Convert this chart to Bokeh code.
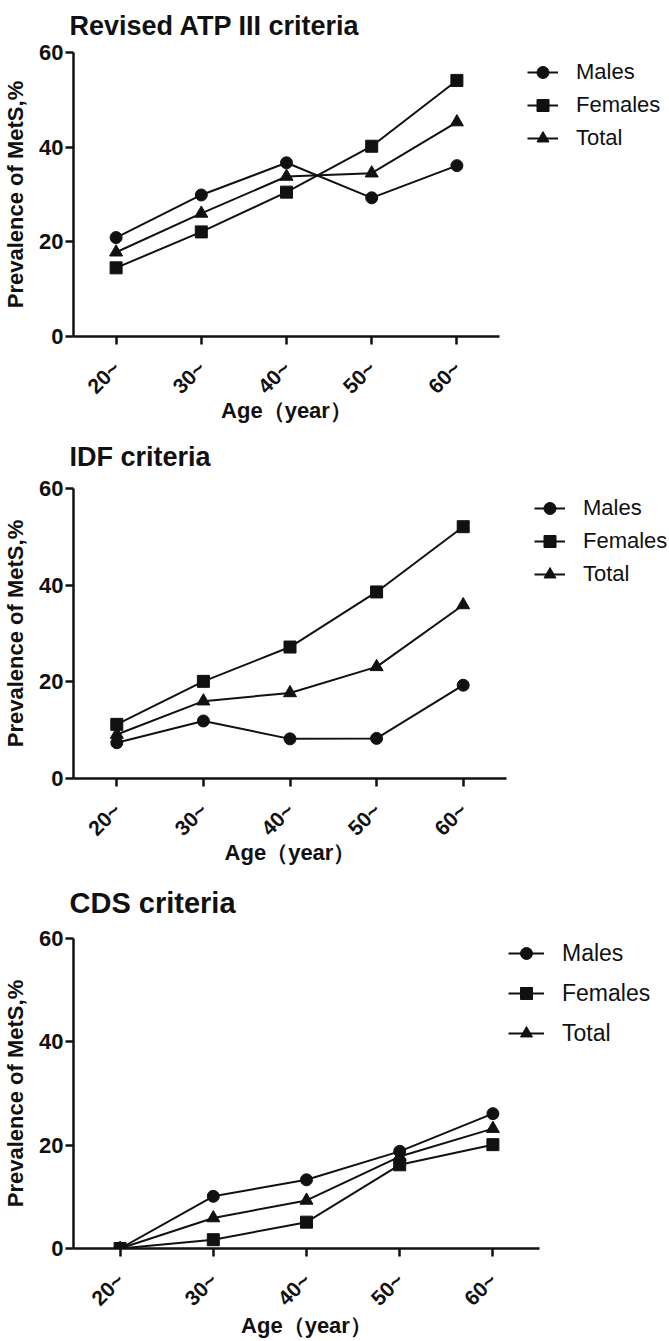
import math
from bokeh.plotting import figure
from bokeh.models import Legend, LegendItem, FixedTicker
from bokeh.embed import file_html
from bokeh.resources import INLINE

# ---------------- data ----------------
age_groups = ["20~", "30~", "40~", "50~", "60~"]
y_ticks = [0, 20, 40, 60]
series_names = ["Males", "Females", "Total"]

atp_males = [20.9, 29.9, 36.7, 29.3, 36.1]
atp_females = [14.5, 22.1, 30.5, 40.2, 54.1]
atp_total = [17.8, 26.0, 33.8, 34.5, 45.3]

idf_males = [7.4, 11.9, 8.2, 8.3, 19.3]
idf_females = [11.2, 20.1, 27.2, 38.6, 52.1]
idf_total = [9.1, 16.0, 17.7, 23.1, 35.9]

cds_males = [0.0, 10.1, 13.3, 18.8, 26.1]
cds_females = [0.0, 1.7, 5.1, 16.2, 20.1]
cds_total = [0.0, 5.9, 9.3, 17.8, 23.2]

titles = ["Revised ATP III criteria", "IDF criteria", "CDS criteria"]
y_label = "Prevalence of MetS,%"
x_label = "Age\uff08year\uff09"

FONT = "Liberation Sans"
INK = "#111111"
W = 669


def make_panel(title, males, females, total, cfg):
    left = 72
    fw, fh = cfg["fw"], cfg["fh"]
    top, bottom = cfg["top"], cfg["bottom"]
    right = W - left - fw
    p = figure(frame_width=fw, frame_height=fh, output_backend="svg",
               toolbar_location=None, x_range=(-0.5, 4.5), y_range=(0, 60),
               min_border_left=left, min_border_right=right,
               min_border_top=top, min_border_bottom=bottom)
    p.outline_line_color = None
    p.xgrid.visible = False
    p.ygrid.visible = False
    p.background_fill_color = "white"

    xs = list(range(len(age_groups)))
    p.xaxis.ticker = FixedTicker(ticks=xs)
    p.xaxis.major_label_overrides = {i: s for i, s in enumerate(age_groups)}
    p.xaxis.major_label_orientation = math.pi / 4
    p.yaxis.ticker = FixedTicker(ticks=y_ticks)
    for ax in (p.xaxis[0], p.yaxis[0]):
        ax.axis_line_width = 2.5
        ax.axis_line_color = INK
        ax.major_tick_line_width = 2.5
        ax.major_tick_line_color = INK
        ax.major_tick_in = 0
        ax.major_tick_out = 8
        ax.minor_tick_line_color = None
        ax.major_label_text_font = FONT
        ax.major_label_text_font_style = "bold"
        ax.major_label_text_color = INK
    p.yaxis.major_label_text_font_size = "22px"
    p.yaxis.major_label_standoff = 2
    p.xaxis.major_label_text_font_size = "21px"
    p.xaxis.major_label_standoff = cfg["xstand"]

    p.yaxis.axis_label = y_label
    p.yaxis.axis_label_text_font = FONT
    p.yaxis.axis_label_text_font_style = "bold"
    p.yaxis.axis_label_text_font_size = "22px"
    p.yaxis.axis_label_text_color = INK
    p.yaxis.axis_label_standoff = 8

    p.xaxis.axis_label = x_label
    p.xaxis.axis_label_text_font = FONT
    p.xaxis.axis_label_text_font_style = "bold"
    p.xaxis.axis_label_text_font_size = "22px"
    p.xaxis.axis_label_text_color = INK
    p.xaxis.axis_label_standoff = cfg["xlstand"]

    p.title.text = title
    p.title.text_font = FONT
    p.title.text_font_style = "bold"
    p.title.text_font_size = cfg["tsize"]
    p.title.text_color = INK
    p.title.align = "left"
    p.title.vertical_align = cfg["valign"]
    p.title.offset = -4
    p.title.standoff = cfg["tstand"]

    markers = ["circle", "square", "triangle"]
    sizes = [12, 12, 13]
    items = []
    for name, ys, mk, sz in zip(series_names, [males, females, total], markers, sizes):
        lr = p.line(xs, ys, line_width=2, color=INK)
        sr = p.scatter(xs, ys, marker=mk, size=sz, color=INK)
        items.append(LegendItem(label=name, renderers=[lr, sr]))

    lg = Legend(items=items, location=cfg["legloc"], orientation="vertical",
                glyph_width=cfg["gw"], glyph_height=30, label_height=30,
                spacing=cfg["spacing"], padding=0, margin=0, label_standoff=18,
                label_text_font=FONT, label_text_font_size=cfg["lsize"],
                label_text_color=INK, border_line_color=None,
                background_fill_alpha=0)
    p.add_layout(lg, "right")
    return p


cfgs = [
    dict(fw=426, fh=284, top=52, bottom=88, tsize="27px", tstand=20, valign="top",
         legloc=(28, 183), gw=31, spacing=3, lsize="22px", xstand=20, xlstand=-11),
    dict(fw=433, fh=290, top=63, bottom=89, tsize="27px", tstand=31, valign="middle",
         legloc=(28, 189), gw=31, spacing=3, lsize="22px", xstand=20, xlstand=-11),
    dict(fw=466, fh=310, top=71, bottom=94, tsize="29px", tstand=37, valign="middle",
         legloc=(-31, 200), gw=36, spacing=10, lsize="23px", xstand=20, xlstand=-8),
]

data = [
    (atp_males, atp_females, atp_total),
    (idf_males, idf_females, idf_total),
    (cds_males, cds_females, cds_total),
]

panels = [make_panel(t, *d, c) for t, d, c in zip(titles, data, cfgs)]

open("out.html", "w").write(file_html(panels, INLINE))
